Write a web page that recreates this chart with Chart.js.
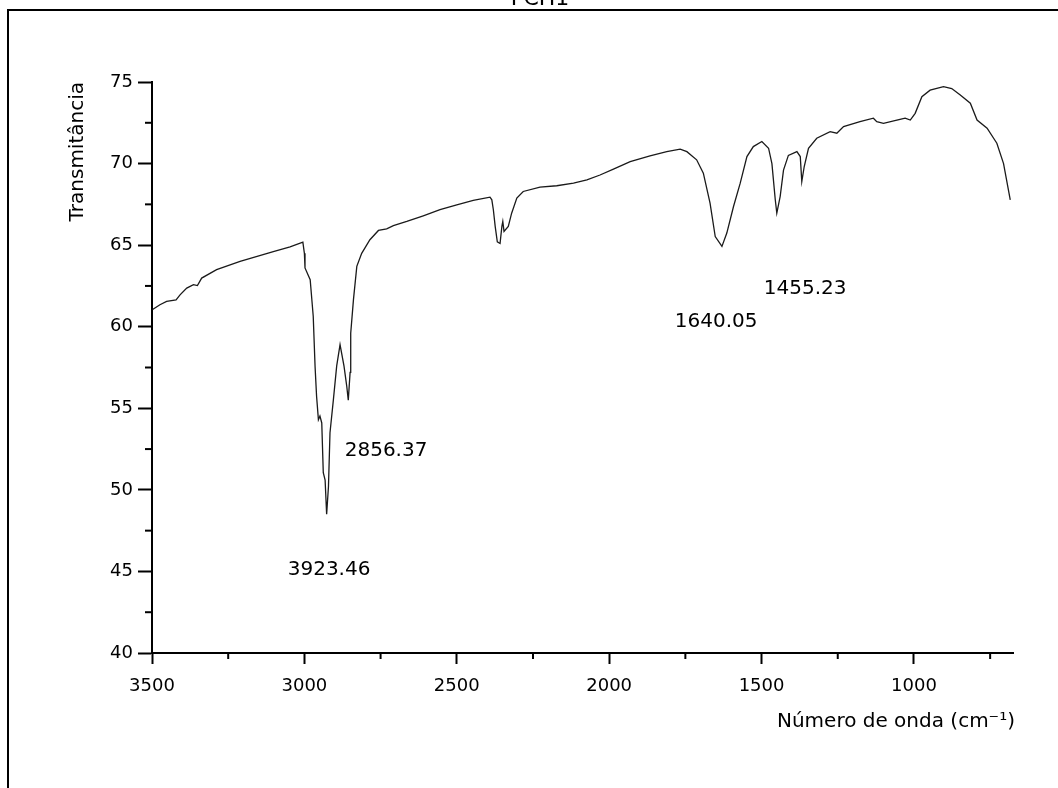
<!DOCTYPE html>
<html>
<head>
<meta charset="utf-8">
<script src="https://cdn.jsdelivr.net/npm/chart.js@4/dist/chart.umd.min.js"></script>
<style>
  html, body { margin: 0; padding: 0; background: #fff; }
  #wrap { position: relative; width: 1058px; height: 788px; }
</style>
</head>
<body>
<div id="wrap"><canvas id="c" width="1058" height="788"></canvas></div>
<script>
// ---- data ----
const wavenumbers = [3498,3474,3452,3421,3408,3386,3364,3351,3337,3288,3211,3102,3047,3005,3000,2998,2981,2971,2965,2960,2954,2949,2943,2938,2932,2927,2921,2916,2905,2894,2883,2870,2861,2856,2850,2848,2839,2828,2812,2785,2757,2730,2708,2664,2610,2555,2500,2446,2391,2385,2380,2374,2367,2358,2352,2349,2345,2331,2320,2303,2282,2227,2172,2117,2073,2030,1986,1931,1866,1811,1767,1745,1713,1691,1669,1652,1630,1614,1592,1570,1548,1527,1499,1477,1466,1455,1450,1439,1428,1412,1384,1373,1368,1360,1346,1319,1275,1253,1231,1177,1133,1122,1100,1056,1029,1012,996,974,947,903,876,848,815,793,760,728,706,684];
const transmittance = [61.05,61.35,61.55,61.65,61.95,62.37,62.58,62.52,62.98,63.5,64.0,64.6,64.9,65.19,64.5,63.6,62.88,60.64,57.58,55.74,54.3,54.52,54.1,51.05,50.6,48.5,50.2,53.5,55.5,57.6,58.9,57.58,56.35,55.5,57.2,59.6,61.66,63.7,64.5,65.33,65.9,66.0,66.2,66.45,66.8,67.17,67.47,67.74,67.94,67.78,67.17,66.15,65.2,65.1,66.15,66.45,65.84,66.15,66.96,67.88,68.29,68.55,68.64,68.8,69.0,69.3,69.66,70.12,70.47,70.73,70.88,70.73,70.23,69.41,67.58,65.53,64.92,65.74,67.37,68.8,70.43,71.04,71.35,70.94,70.0,67.78,66.96,67.98,69.6,70.5,70.73,70.43,68.9,69.82,70.94,71.55,71.96,71.86,72.27,72.57,72.78,72.57,72.47,72.67,72.78,72.67,73.08,74.1,74.5,74.71,74.6,74.2,73.7,72.67,72.17,71.25,70.0,67.78];
const peakLabels = ["3923.46", "2856.37", "1640.05", "1455.23"];
const peakLabelX = [2919, 2732, 1649, 1357];
const peakLabelY = [45.1, 52.4, 60.3, 62.3];
const xTickValues = [3500, 3000, 2500, 2000, 1500, 1000];
const yTickValues = [40, 45, 50, 55, 60, 65, 70, 75];
const yMinorTicks = [42.5, 47.5, 52.5, 57.5, 62.5, 67.5, 72.5];
const xMinorTicks = [3250, 2750, 2250, 1750, 1250, 750];
const chartTitle = "FCH1";
const xTitle = "Número de onda (cm⁻¹)";
const yTitle = "Transmitância";

const FONT = "'DejaVu Sans', 'Liberation Sans', Arial, sans-serif";

const points = wavenumbers.map((w, i) => ({ x: w, y: transmittance[i] }));

const decorPlugin = {
  id: 'decor',
  afterDraw(chart) {
    const ctx = chart.ctx;
    const xs = chart.scales.x, ys = chart.scales.y;
    const ca = chart.chartArea;
    ctx.save();
    // minor ticks
    ctx.strokeStyle = '#000';
    ctx.lineWidth = 2;
    yMinorTicks.forEach(v => {
      const py = ys.getPixelForValue(v);
      ctx.beginPath(); ctx.moveTo(ca.left, py); ctx.lineTo(ca.left - 7, py); ctx.stroke();
    });
    xMinorTicks.forEach(v => {
      const px = xs.getPixelForValue(v);
      ctx.beginPath(); ctx.moveTo(px, ca.bottom); ctx.lineTo(px, ca.bottom + 6); ctx.stroke();
    });
    ctx.fillStyle = '#000';
    // peak annotations
    ctx.font = '20px ' + FONT;
    ctx.textAlign = 'center';
    ctx.textBaseline = 'middle';
    peakLabels.forEach((t, i) => {
      ctx.fillText(t, xs.getPixelForValue(peakLabelX[i]), ys.getPixelForValue(peakLabelY[i]));
    });
    // x axis title, right aligned with the plot's right edge
    ctx.textAlign = 'right';
    ctx.fillText(xTitle, ca.right + 2, ca.bottom + 69);
    // scanned page frame + cut-off title
    ctx.lineWidth = 2;
    ctx.beginPath();
    ctx.moveTo(8, 788); ctx.lineTo(8, 10); ctx.lineTo(1058, 10);
    ctx.stroke();
    ctx.font = '22px ' + FONT;
    ctx.textAlign = 'center';
    ctx.textBaseline = 'alphabetic';
    ctx.fillText(chartTitle, 540, 5);
    ctx.restore();
  }
};

new Chart(document.getElementById('c'), {
  type: 'line',
  data: {
    datasets: [{
      data: points,
      borderColor: '#1a1a1a',
      borderWidth: 1.3,
      pointRadius: 0,
      tension: 0,
      fill: false
    }]
  },
  options: {
    responsive: false,
    animation: false,
    layout: { padding: { left: 0, top: 82, right: 45, bottom: 0 } },
    plugins: { legend: { display: false }, tooltip: { enabled: false }, title: { display: false } },
    scales: {
      x: {
        type: 'linear',
        reverse: true,
        min: 675,
        max: 3500,
        afterBuildTicks(s) { s.ticks = xTickValues.map(v => ({ value: v })); },
        afterFit(s) { s.height = 135; },
        border: { display: true, color: '#000', width: 2 },
        grid: { drawOnChartArea: false, drawTicks: true, tickLength: 11, tickColor: '#000', tickWidth: 2 },
        ticks: {
          color: '#000',
          padding: 12,
          maxRotation: 0,
          autoSkip: false,
          font: { family: FONT, size: 18 },
          callback: v => String(v)
        },
        title: { display: false }
      },
      y: {
        min: 40,
        max: 75,
        afterBuildTicks(s) { s.ticks = yTickValues.map(v => ({ value: v })); },
        afterFit(s) { s.width = 152; },
        border: { display: true, color: '#000', width: 2 },
        grid: { drawOnChartArea: false, drawTicks: true, tickLength: 14, tickColor: '#000', tickWidth: 2 },
        ticks: {
          color: '#000',
          padding: 5,
          autoSkip: false,
          font: { family: FONT, size: 18 },
          callback: v => String(v)
        },
        title: {
          display: true,
          text: yTitle,
          align: 'end',
          color: '#000',
          font: { family: FONT, size: 20 },
          padding: { top: 66, bottom: 0 }
        }
      }
    }
  },
  plugins: [decorPlugin]
});
</script>
</body>
</html>
